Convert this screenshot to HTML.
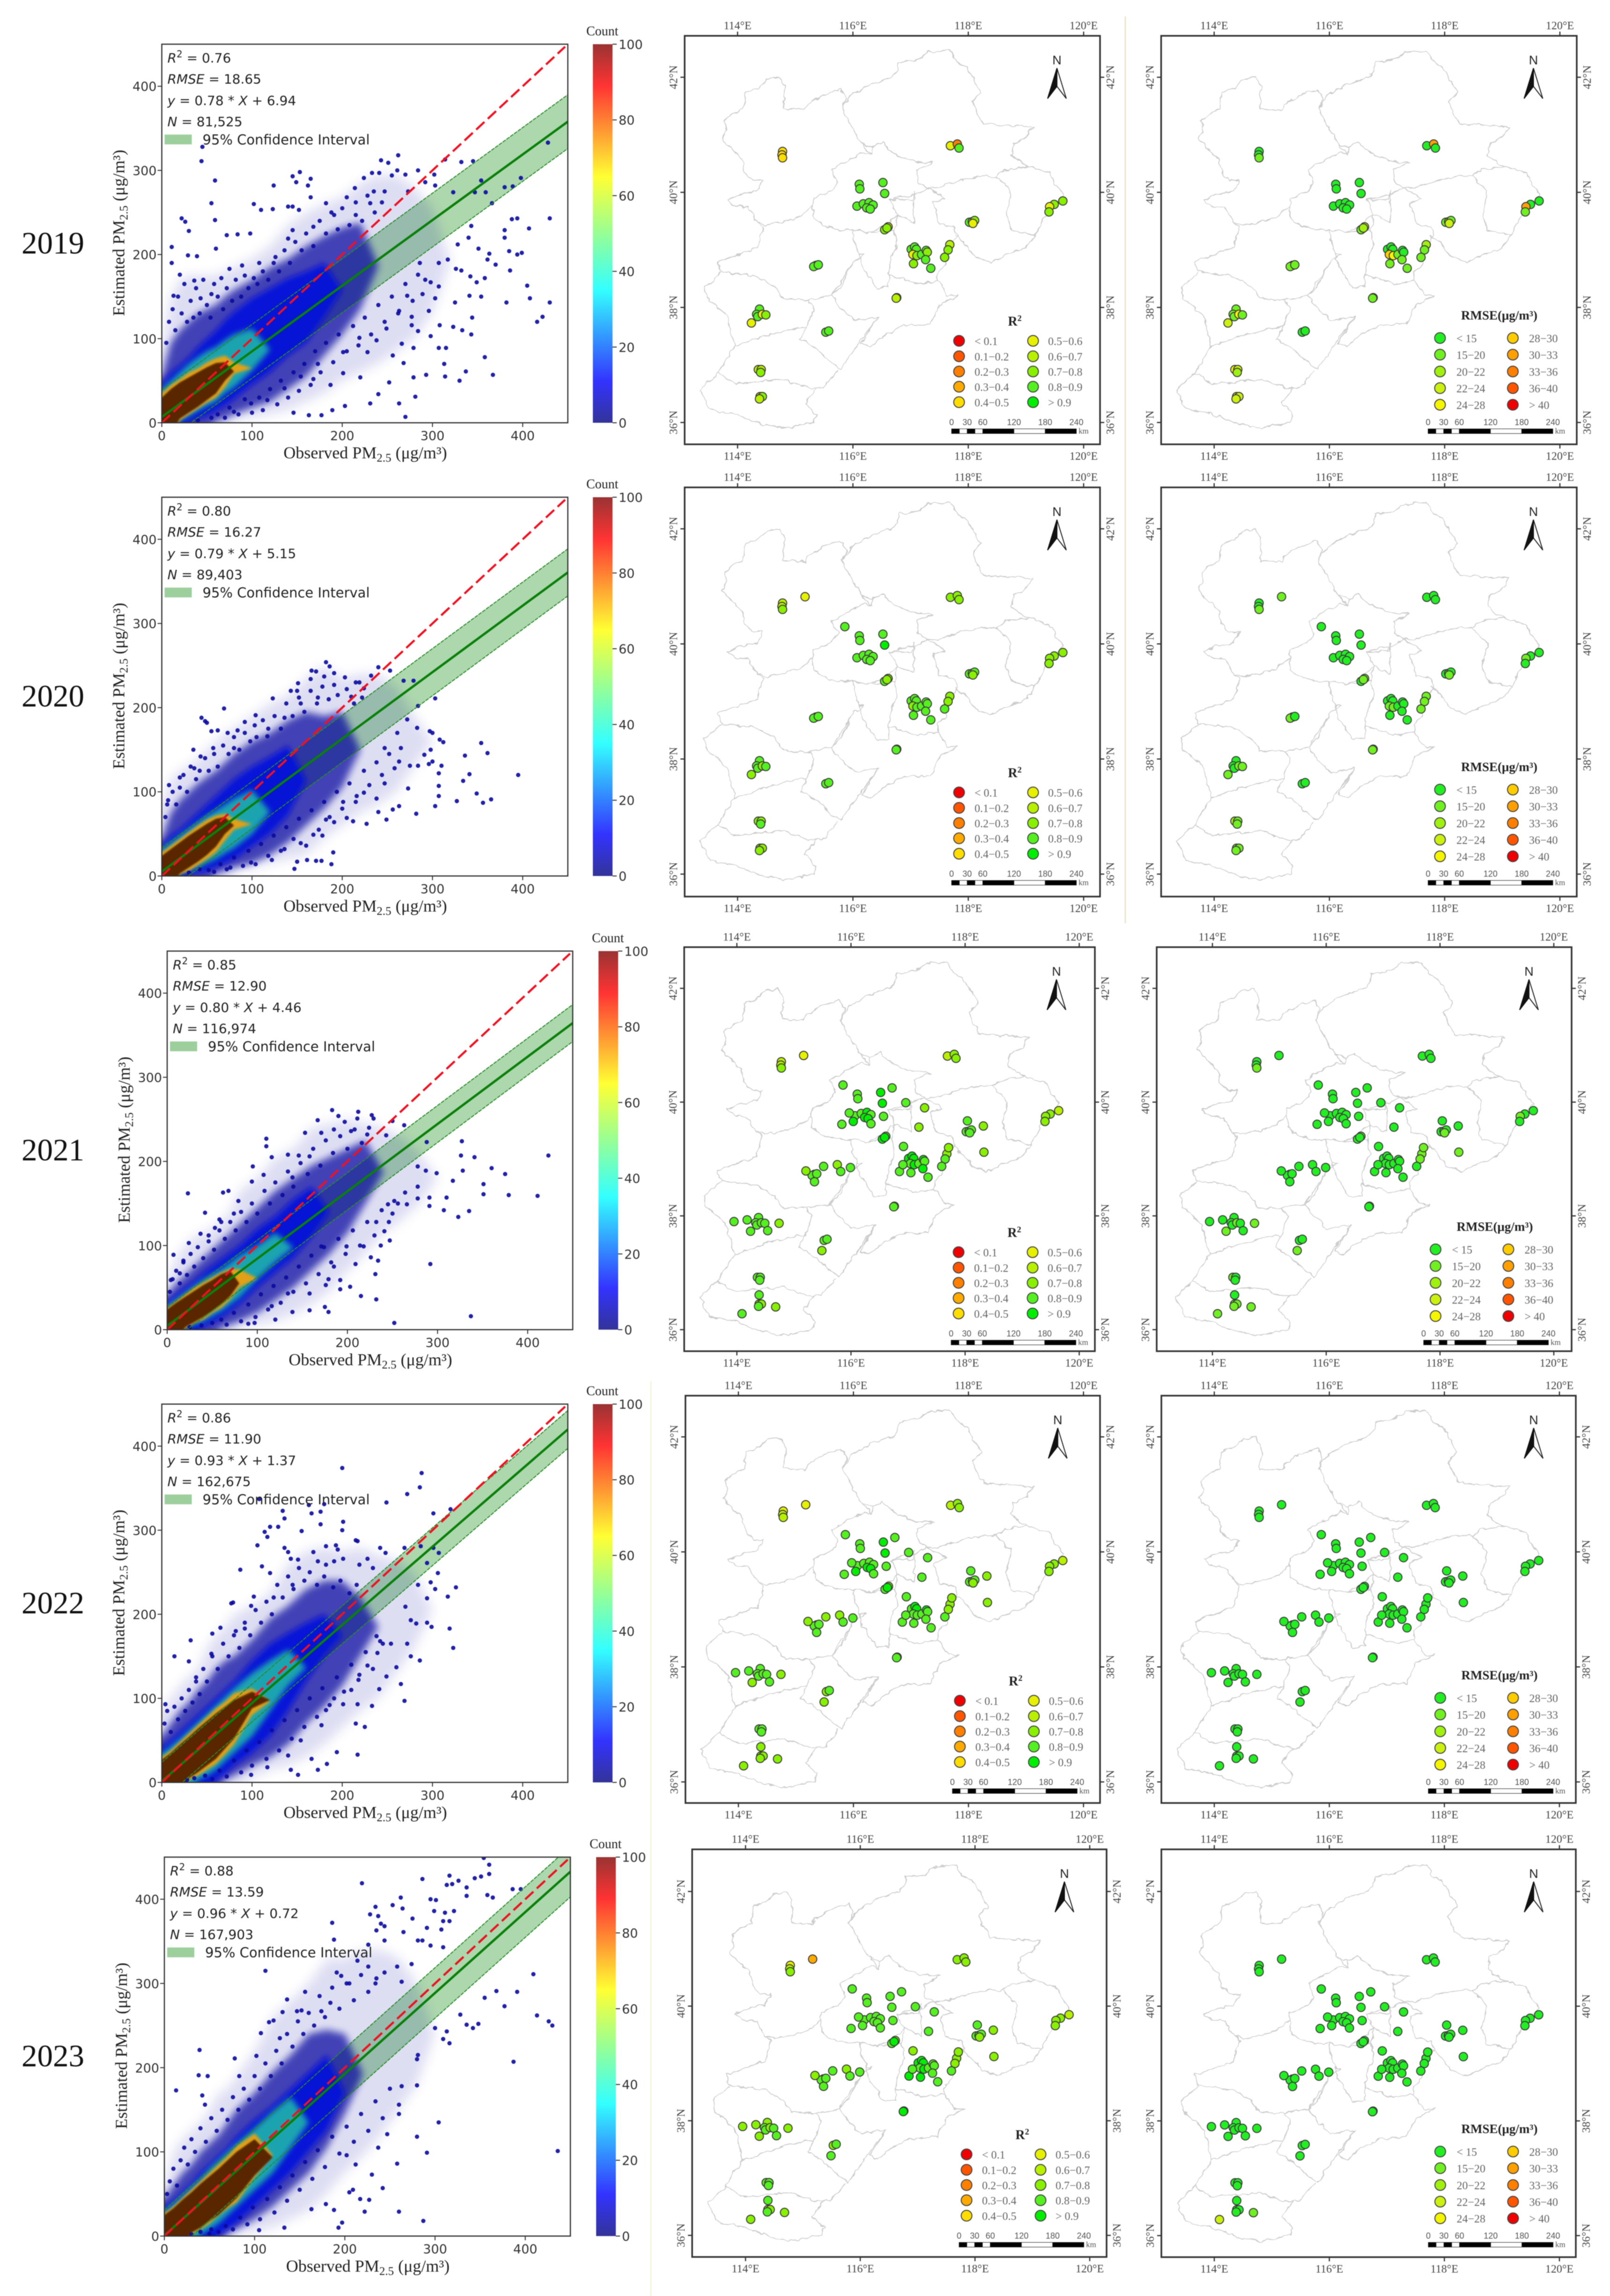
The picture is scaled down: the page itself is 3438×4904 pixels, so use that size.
<!DOCTYPE html>
<html lang="en">
<head>
<meta charset="utf-8">
<title>PM2.5 validation scatter plots and site maps, 2019-2023</title>
<style>
html,body{margin:0;padding:0;background:#fff;}
svg{display:block;filter:blur(0.8px);}
</style>
</head>
<body>
<svg id="figure" xmlns="http://www.w3.org/2000/svg" width="3438" height="4904" viewBox="0 0 3438 4904">
<defs id="defs">
<linearGradient id="jet" x1="0" y1="1" x2="0" y2="0">
<stop offset="0" stop-color="#000080"/>
<stop offset="0.11" stop-color="#0000ff"/>
<stop offset="0.35" stop-color="#00ffff"/>
<stop offset="0.5" stop-color="#7dff7a"/>
<stop offset="0.65" stop-color="#ffff00"/>
<stop offset="0.89" stop-color="#ff0000"/>
<stop offset="1" stop-color="#800000"/>
</linearGradient>
<filter id="blur1" x="-10%" y="-10%" width="120%" height="120%"><feGaussianBlur stdDeviation="1.6"/></filter>
<filter id="blur3" x="-10%" y="-10%" width="120%" height="120%"><feGaussianBlur stdDeviation="3"/></filter>
<filter id="blur4" x="-10%" y="-10%" width="120%" height="120%"><feGaussianBlur stdDeviation="6"/></filter>
<filter id="blur6" x="-10%" y="-10%" width="120%" height="120%"><feGaussianBlur stdDeviation="8"/></filter>
<filter id="blur9" x="-10%" y="-10%" width="120%" height="120%"><feGaussianBlur stdDeviation="12"/></filter>
<filter id="wiggle" x="-3%" y="-3%" width="106%" height="106%"><feTurbulence type="fractalNoise" baseFrequency="0.07" numOctaves="2" seed="4" result="n"/><feDisplacementMap in="SourceGraphic" in2="n" scale="11" xChannelSelector="R" yChannelSelector="G"/></filter>
</defs>
</svg>
<script>
/* ---------- scatter values ---------- */
const years = ['2019','2020','2021','2022','2023'];
const r2Labels = ['0.76','0.80','0.85','0.86','0.88'];
const rmseLabels = ['18.65','16.27','12.90','11.90','13.59'];
const nLabels = ['81,525','89,403','116,974','162,675','167,903'];
const fitSlopes = [0.78,0.79,0.80,0.93,0.96];
const fitIntercepts = [6.94,5.15,4.46,1.37,0.72];
const ciHalfWidths = [32,28,22,22.5,30];
const axisTicks = [0,100,200,300,400];
const colorbarTicks = [0,20,40,60,80,100];
const stationX = [0,10,20,30,40,50,60,70,80,100,120,140,160,180,200,220,240,260,280,300];

const hazeHi2019=[90,150,170,175,175,175,175,180,185,195,210,235,250,260,268,285,295,295,280,255];
const hazeLo2019=[0,0,0,0,0,0,0,0,3,6,10,15,25,35,50,60,70,85,100,130];
const speckHi2019=[55,95,110,120,130,135,140,150,158,170,185,195,210,222,232,238];
const speckLo2019=[0,0,0,0,0,0,2,5,10,18,25,40,55,80,105,135];
const solidHi2019=[45,60,68,78,90,100,110,122,132,148,160,172,180,190];
const solidLo2019=[0,0,0,2,5,8,14,20,28,45,60,80,95,125];
const cyanHi2019=[40,50,60,70,78,85,90,98,105,112];
const cyanLo2019=[0,0,2,8,14,20,25,35,42,62];
const orangeHi2019=[35,45,52,60,65,72,77,80,72];
const orangeLo2019=[0,0,3,10,17,24,30,42,58];
const brownHi2019=[30,40,48,54,60,66,71,72];
const brownLo2019=[0,0,5,12,19,27,35,50];

const hazeHi2020=[85,115,125,130,140,150,160,170,175,190,205,215,235,250,235,240,240,225,190];
const hazeLo2020=[0,0,0,0,0,0,0,0,5,10,15,20,25,45,60,75,85,100,130];
const speckHi2020=[45,75,90,100,110,118,125,135,145,160,170,185,195,190,195];
const speckLo2020=[0,0,0,0,0,0,3,6,10,15,25,40,60,80,105];
const solidHi2020=[35,48,55,65,75,85,95,105,115,130,142,155];
const solidLo2020=[0,0,0,2,4,6,10,15,20,35,50,72];
const cyanHi2020=[32,40,48,56,64,72,78,85,92,102];
const cyanLo2020=[0,0,3,6,10,15,20,27,33,50];
const orangeHi2020=[28,36,44,52,60,67,72,74,68];
const orangeLo2020=[0,0,2,6,13,20,28,42,55];
const brownHi2020=[24,32,40,48,55,62,68,70];
const brownLo2020=[0,0,3,10,17,25,35,50];

const hazeHi2021=[60,85,100,110,115,120,130,140,165,180,205,215,240,245,250,245,240,230,210];
const hazeLo2021=[0,0,0,0,0,0,0,0,3,6,10,18,30,45,70,90,115,130,150];
const speckHi2021=[42,55,65,75,85,95,105,115,125,145,165,180,195,205,215,225];
const speckLo2021=[0,0,0,0,0,0,2,6,10,20,35,50,70,90,115,150];
const solidHi2021=[32,42,50,58,68,76,84,92,100,120,135,155,170];
const solidLo2021=[0,0,0,0,4,8,14,22,30,50,68,85,110];
const cyanHi2021=[28,36,44,52,60,66,72,80,88,100,115];
const cyanLo2021=[0,0,2,6,10,16,22,30,38,60,80];
const orangeHi2021=[26,34,42,50,56,62,68,72,72];
const orangeLo2021=[0,0,2,8,12,20,26,36,50];
const brownHi2021=[24,32,39,46,53,59,66,70];
const brownLo2021=[0,0,3,9,15,22,30,40];

const hazeHi2022=[85,100,115,125,135,160,175,185,200,210,225,260,275,280,275,280,270,265,250];
const hazeLo2022=[0,0,0,0,0,0,0,0,0,5,15,20,30,45,65,85,100,130,160];
const speckHi2022=[55,70,85,95,110,120,135,145,150,170,195,210,230,240,240,220];
const speckLo2022=[0,0,0,0,0,0,0,3,8,20,30,45,70,90,115,150];
const solidHi2022=[42,50,60,70,80,90,100,110,120,145,165,178,190,200];
const solidLo2022=[0,0,0,0,0,0,3,10,20,35,55,85,120,150];
const cyanHi2022=[35,43,52,62,72,82,92,102,112,130,145,158];
const cyanLo2022=[0,0,0,0,3,8,15,25,35,55,85,115];
const orangeHi2022=[30,38,48,58,68,78,88,96,106,112];
const orangeLo2022=[0,0,0,3,8,15,22,33,45,80];
const brownHi2022=[27,35,45,54,64,73,82,90,98,108];
const brownLo2022=[0,0,0,5,12,20,28,40,52,88];

const hazeHi2023=[60,100,115,125,135,150,170,175,190,220,260,280,300,330,330,340,340,330,300];
const hazeLo2023=[0,0,0,0,0,0,0,0,2,5,10,20,30,50,75,95,120,150,180];
const speckHi2023=[45,60,75,85,100,110,120,135,150,170,195,215,240,245,240];
const speckLo2023=[0,0,0,0,0,0,0,3,8,20,35,55,75,105,145];
const solidHi2023=[35,42,52,62,75,85,95,105,118,138,155,175,195,215];
const solidLo2023=[0,0,0,0,0,0,2,8,15,35,55,75,100,125];
const cyanHi2023=[30,38,48,58,68,80,90,100,110,128,148,165];
const cyanLo2023=[0,0,0,0,2,8,15,25,35,55,75,105];
const orangeHi2023=[27,35,45,55,65,75,85,95,107,122];
const orangeLo2023=[0,0,0,2,8,15,25,33,40,70];
const brownHi2023=[25,33,43,52,62,71,80,90,100,115];
const brownLo2023=[0,0,0,4,10,18,25,35,45,72];

const points2019=[[45,328],[44,311],[59,288],[55,261],[59,241],[22,243],[26,239],[30,228],[11,209],[11,190],[102,260],[110,253],[123,254],[124,282],[145,293],[153,298],[149,286],[162,282],[165,290],[140,257],[145,257],[152,253],[165,268],[72,223],[84,224],[98,225],[60,207],[29,199],[39,198],[243,312],[251,309],[262,318],[261,300],[233,297],[241,297],[224,291],[255,294],[270,295],[284,300],[302,295],[292,286],[303,282],[273,275],[428,333],[332,310],[345,311],[314,313],[398,291],[354,288],[380,280],[389,281],[323,274],[347,274],[359,274],[366,261],[430,243],[394,243],[388,242],[380,229],[407,231],[343,234],[380,220],[340,220],[328,212],[351,207],[385,204],[399,202],[394,200],[363,201],[361,194],[370,188],[386,181],[307,190],[317,194],[326,183],[332,181],[342,174],[358,172],[349,167],[405,163],[408,148],[430,143],[382,143],[354,150],[341,151],[325,143],[303,148],[307,162],[298,167],[422,126],[416,120],[344,125],[343,105],[333,110],[323,114],[308,116],[298,103],[358,78],[367,57],[337,61],[330,50],[314,55],[313,70],[307,89],[315,89],[293,57],[279,54],[281,31],[270,7],[263,23],[231,23],[220,54],[240,34],[203,20],[189,15],[177,9],[163,9],[146,12],[256,80],[266,94],[277,116],[284,109],[252,48],[268,71],[279,89],[249,112],[238,98],[228,84],[284,176],[289,153],[272,151],[263,133],[277,126],[296,133],[13,151],[20,176],[36,169],[43,148],[55,153],[66,172],[75,183],[89,187],[108,190],[126,197],[140,219],[145,229],[168,233],[182,261],[191,247],[205,268],[214,279],[231,261],[235,275],[215,247],[247,275],[80,13],[99,23],[117,27],[136,41],[154,55],[168,52],[187,45],[201,59],[173,70],[201,84],[219,101],
[5,95],[8,120],[12,135],[15,110],[18,150],[22,130],[25,165],[28,120],[32,145],[35,125],[38,160],[42,130],[46,170],[50,140],[54,125],[58,165],[62,150],[68,135],[72,160],[78,145],[82,170],[88,150],[92,175],[96,160],[102,172],[106,165],[112,180],[118,170],[124,190],[130,180],[136,205],[142,190],[148,215],[155,205],[160,225],[168,210],[175,240],[182,225],[188,250],[195,230],[200,255],[208,235],[215,262],[222,240],[228,270],[236,250],[244,262],[40,3],[55,6],[62,10],[70,6],[75,18],[85,10],[92,28],[100,12],[108,30],[112,15],[120,40],[128,22],[132,50],[140,30],[146,60],[152,38],[158,70],[165,45],[170,85],[176,60],[182,95],[190,72],[196,105],[205,85],[212,115],[218,92],[225,125],[232,105],[240,140],[247,120],[255,150],[262,130],[270,165],[278,145],[286,190],[292,170]];
const points2020=[[182,254],[186,249],[166,244],[171,243],[165,234],[180,237],[191,241],[240,248],[253,244],[232,238],[215,230],[219,230],[203,236],[268,232],[279,232],[69,199],[44,188],[48,184],[50,182],[104,191],[123,211],[143,220],[150,220],[151,229],[92,183],[303,211],[284,202],[272,186],[283,176],[297,172],[300,170],[308,162],[312,159],[354,158],[361,146],[336,143],[341,121],[334,113],[395,120],[349,98],[365,91],[356,87],[327,89],[307,95],[307,107],[310,131],[307,122],[300,136],[296,133],[291,144],[298,150],[284,131],[275,131],[263,136],[273,104],[282,74],[303,83],[263,83],[256,79],[249,67],[227,62],[212,65],[205,69],[191,64],[178,48],[190,28],[188,14],[147,8.5],[150,17],[161,19],[171,18],[177,18],[240,76],[238,92],[247,110],[224,99],[265,152],[261,170],[247,152],[8,108],[6,85],[36,128],[35,150],[55,172],[62,173],[73,170],[84,173],[103,179],[117,166],[136,188],[154,205],[173,212],[191,227],[210,213],[224,223],[43,142],[20,117],[57,152],[80,152],[52,7],[76,10],[99,16],[122,19],[136,32],[154,39],[168,49],[182,67],[201,88],[215,88],
[4,70],[7,90],[12,100],[16,85],[20,105],[24,120],[28,100],[32,130],[38,115],[42,125],[48,140],[52,125],[58,145],[62,130],[68,155],[74,145],[80,165],[86,150],[92,170],[98,160],[105,165],[112,185],[118,175],[125,190],[132,175],[138,205],[145,190],[152,212],[158,195],[165,220],[172,205],[178,225],[185,210],[195,215],[205,222],[213,205],[222,212],[30,4],[42,8],[58,5],[65,14],[72,8],[80,22],[90,12],[96,30],[104,14],[110,38],[118,24],[124,48],[132,30],[138,58],[146,44],[152,68],[160,36],[166,78],[174,55],[180,88],[186,70],[194,100],[200,80],[208,110],[216,95],[224,125],[230,108],[238,135],[244,120],[252,145],[258,128]];
const points2021=[[183,261],[212,259],[227,255],[167,249],[190,254],[197,247],[211,251],[229,251],[250,248],[263,243],[110,227],[110,218],[153,234],[171,234],[185,238],[204,236],[222,232],[243,231],[95,194],[116,205],[134,208],[146,207],[158,206],[94,176],[23,162],[62,163],[68,165],[42,139],[7,89],[4,59],[37,114],[24,103],[60,128],[58,131],[327,224],[288,223],[326,207],[341,205],[423,207],[360,192],[375,185],[328,189],[299,186],[287,189],[278,194],[317,177],[351,173],[351,161],[379,160],[411,159],[310,157],[291,157],[278,156],[266,149],[291,147],[307,142],[335,141],[323,134],[292,78],[250,138],[247,106],[237,100],[226,86],[234,82],[231,66],[232,36],[215,40],[252,8],[337,16],[203,51],[192,59],[192,48],[179,60],[179,21],[175,27],[158,23],[139,21],[120,12],[97,8],[90,7],[209,78],[199,99],[218,99],[241,117],[232,128],[252,153],[264,163],[278,170],[245,149],[107,184],[139,181],[79,153],[74,138],[53,121],[46,112],[18,82],[14,67],[116,28],[134,43],[158,43],[176,53],[185,75],[171,99],
[3,45],[6,60],[10,70],[14,55],[18,80],[22,65],[26,90],[30,75],[34,98],[40,85],[46,105],[52,95],[58,118],[64,108],[70,128],[76,118],[82,140],[88,128],[94,150],[100,138],[108,165],[114,150],[120,175],[128,160],[134,188],[140,170],[148,198],[156,185],[162,215],[170,195],[176,225],[184,210],[192,230],[200,215],[208,238],[216,222],[224,240],[25,3],[38,5],[50,8],[60,12],[66,6],[74,20],[82,10],[90,30],[98,15],[104,42],[112,24],[118,52],[126,32],[132,62],[140,45],[146,75],[154,55],[160,88],[168,66],[174,98],[182,80],[190,108],[198,90],[206,118],[214,100],[222,128],[230,112],[238,142],[246,128],[256,150]];
const points2022=[[200,374],[288,368],[286,351],[272,343],[249,333],[301,320],[320,325],[163,330],[180,331],[108,337],[134,323],[136,314],[166,320],[176,322],[176,307],[201,310],[200,300],[155,299],[114,298],[120,304],[129,304],[117,292],[106,282],[136,279],[140,274],[143,266],[151,265],[168,274],[182,281],[193,282],[195,277],[215,288],[217,287],[242,279],[248,273],[269,279],[287,281],[301,279],[307,273],[306,249],[294,261],[284,235],[303,230],[326,232],[317,221],[298,238],[294,219],[319,183],[323,160],[299,185],[294,190],[282,189],[276,193],[270,209],[272,165],[276,150],[286,145],[254,165],[245,165],[239,154],[260,137],[249,126],[265,117],[269,97],[241,111],[233,91],[225,66],[215,70],[217,33],[194,36],[183,22],[173,15],[151,9],[143,15],[166,28],[87,253],[111,257],[120,249],[77,213],[79,214],[102,221],[32,169],[14,150],[30,144],[4,93],[56,177],[65,184],[82,180],[38,125],[55,153],[92,183],[99,210],[124,220],[145,235],[173,263],[182,259],[191,263],[201,266],[219,259],[228,266],[234,255],[201,93],[217,93],[191,100],[182,86],[177,68],[154,50],[140,32],[117,18],[99,9],[210,110],[219,128],[228,139],[238,174],
[3,70],[6,85],[10,60],[14,90],[18,75],[22,100],[26,85],[30,110],[34,95],[38,120],[42,105],[46,135],[50,120],[56,150],[62,135],[68,165],[74,150],[80,175],[86,160],[92,190],[98,175],[104,205],[110,190],[116,215],[122,200],[128,235],[134,220],[140,245],[146,230],[152,255],[158,240],[164,250],[172,235],[180,245],[190,232],[198,240],[208,225],[216,235],[28,3],[36,5],[48,8],[56,4],[64,14],[72,7],[80,26],[88,12],[94,38],[100,20],[108,48],[116,28],[122,62],[130,38],[136,74],[144,52],[150,86],[158,66],[164,100],[172,78],[178,112],[186,92],[194,125],[202,108],[210,140],[218,122],[226,155],[234,135],[242,168]];
const points2023=[[354,449],[360,441],[360,430],[316,428],[286,424],[219,419],[351,427],[344,425],[326,422],[319,418],[313,417],[335,414],[386,412],[395,412],[335,404],[262,402],[295,400],[301,399],[364,402],[358,405],[253,393],[234,391],[264,389],[299,386],[311,384],[321,386],[228,382],[237,380],[275,377],[316,374],[309,374],[186,372],[240,371],[244,368],[291,366],[307,364],[265,361],[235,363],[188,352],[244,351],[281,351],[286,351],[226,346],[295,345],[309,343],[112,315],[409,311],[391,290],[377,273],[368,291],[355,283],[413,262],[426,255],[430,250],[348,252],[342,247],[335,251],[328,263],[316,229],[309,234],[313,243],[300,247],[387,207],[281,215],[280,210],[436,101],[304,135],[291,99],[280,118],[280,179],[260,156],[260,145],[258,86],[260,29],[287,18],[242,57],[227,43],[217,44],[222,29],[209,55],[205,52],[197,16],[193,10],[188,31],[179,38],[163,32],[39,221],[78,211],[38,191],[48,190],[13,173],[42,167],[45,156],[156,290],[136,281],[131,266],[121,256],[116,254],[107,241],[147,267],[152,268],[128,235],[102,214],[83,190],[133,10],[105,7],[50,3],[230,73],[237,105],[247,121],[263,178],[212,85],[202,96],[174,267],[184,277],[191,313],[196,309],[205,300],[214,327],[226,320],[235,306],[244,313],[258,320],[263,302],[274,323],
[3,50],[6,65],[10,80],[14,60],[18,90],[22,105],[26,85],[30,115],[34,100],[40,128],[46,112],[52,140],[58,125],[64,150],[70,138],[76,165],[82,150],[88,175],[94,162],[100,190],[106,175],[112,205],[118,190],[124,220],[130,205],[136,240],[142,225],[148,255],[154,240],[160,265],[166,250],[172,285],[178,260],[186,295],[194,270],[202,300],[210,280],[218,310],[226,290],[234,300],[30,2],[40,5],[52,8],[60,5],[68,12],[76,8],[84,22],[92,14],[98,34],[106,20],[114,44],[122,28],[128,58],[136,42],[142,72],[150,55],[156,88],[164,68],[170,102],[178,82],[186,118],[194,98],[202,130],[210,112],[218,145],[226,125],[234,160],[242,140],[250,175]];

/* ---------- map values ---------- */
const siteLon=[114.78,114.77,114.78,117.69,117.81,117.84,116.11,116.12,116.52,116.55,116.07,116.18,116.28,116.35,116.24,116.30,116.61,116.55,116.59,118.02,118.07,118.11,118.08,119.64,119.49,119.41,119.40,117.01,117.07,117.10,117.04,117.11,117.19,117.27,117.29,117.26,117.05,117.35,117.68,117.65,117.59,115.36,115.32,115.40,116.76,116.75,114.38,114.33,114.35,114.43,114.49,114.24,115.53,115.58,114.36,114.41,114.40,114.39,114.43,114.38,115.17,115.86,116.72,116.96,117.29,117.19,118.04,118.32,118.33,116.92,116.85,116.91,115.97,116.04,115.84,116.35,116.57,115.21,115.36,115.52,115.76,115.82,115.99,113.95,114.18,114.54,114.74,115.49,114.39,114.68,114.09,117.71];
const siteLat=[40.71,40.65,40.60,40.81,40.84,40.77,40.14,40.06,40.17,39.98,39.76,39.80,39.82,39.78,39.73,39.71,39.40,39.35,39.38,39.48,39.49,39.51,39.46,39.85,39.79,39.75,39.66,39.01,39.05,39.01,38.92,38.90,38.92,38.99,38.96,38.83,38.76,38.68,39.09,39.00,38.87,38.73,38.71,38.74,38.17,38.16,37.97,37.88,37.84,37.88,37.87,37.73,37.57,37.59,36.92,36.92,36.87,36.45,36.45,36.41,40.82,40.30,40.25,39.99,39.90,39.56,39.67,39.58,39.12,39.22,38.78,38.90,39.81,39.66,39.61,39.62,39.75,38.79,38.60,38.87,38.90,38.78,38.85,37.90,37.93,37.74,37.87,37.39,36.61,36.40,36.28,39.20];
const r2Sites2019=[.42,.45,.48,.55,.25,.8,.83,.85,.8,.85,.8,.82,.85,.82,.85,.85,.55,.78,.7,.8,.8,.78,.55,.7,.78,.55,.75,.8,.8,.85,.55,.75,.8,.8,.7,.8,.75,.8,.65,.75,.78,.82,.8,.8,.7,.65,.8,.8,.8,.55,.78,.55,.8,.85,.6,.65,.7,.6,.7,.65];
const rmseSites2019=[13,13,17,14,31,13,12,12,12,12,12,12,12,12,12,12,23,16,20,15,15,15,22,13,13,31,15,14,13,14,29,24,15,14,14,16,16,16,21,18,16,16,16,15,16,18,15,16,15,25,18,23,14,13,25,22,21,23,22,22];
const r2Sites2020=[.65,.6,.7,.75,.72,.75,.85,.85,.85,.9,.85,.85,.85,.85,.85,.85,.7,.85,.75,.8,.8,.8,.7,.72,.75,.7,.75,.85,.85,.88,.72,.8,.85,.85,.8,.85,.85,.85,.72,.75,.8,.82,.85,.85,.8,.8,.85,.85,.85,.7,.85,.7,.82,.85,.7,.75,.8,.7,.75,.75,.55,.85];
const rmseSites2020=[14,14,16,14,14,13,12,12,12,12,12,12,12,12,12,12,17,14,15,14,14,14,18,13,13,16,14,13,13,13,17,15,13,13,14,14,14,14,17,16,15,14,15,14,15,15,14,14,14,19,15,19,14,13,20,17,16,18,17,18,18,13];
const r2Sites2021=[.6,.6,.7,.68,.7,.75,.85,.88,.92,.93,.88,.88,.9,.88,.9,.9,.8,.92,.93,.82,.82,.8,.85,.65,.7,.72,.72,.9,.92,.93,.88,.9,.88,.93,.85,.9,.88,.85,.78,.8,.82,.8,.85,.82,.85,.82,.82,.85,.85,.88,.85,.8,.82,.85,.85,.8,.85,.72,.7,.8,.55,.88,.88,.8,.75,.78,.85,.78,.75,.8,.8,.8,.82,.93,.85,.82,.88,.75,.85,.8,.72,.85,.82,.82,.82,.85,.78,.75,.82,.75,.8,.78];
const rmseSites2021=[14,14,15,14,14,13,12,12,12,12,12,12,12,12,12,12,15,12,13,14,14,14,16,14,14,16,14,12,12,12,14,13,12,12,13,13,13,13,16,15,14,14,14,14,13,14,13,13,13,16,14,17,13,13,16,14,14,16,16,16,13,12,12,13,13,14,12,14,15,13,13,13,12,12,12,12,12,14,14,14,13,13,14,14,14,14,15,16,14,16,17,16];
const r2Sites2022=[.55,.6,.65,.65,.7,.75,.85,.85,.9,.93,.85,.82,.85,.85,.9,.9,.75,.85,.9,.8,.8,.8,.75,.68,.72,.7,.72,.88,.9,.92,.8,.85,.85,.93,.82,.88,.85,.85,.75,.75,.8,.8,.82,.8,.85,.82,.85,.85,.85,.8,.85,.75,.78,.8,.85,.88,.85,.72,.72,.75,.52,.85,.88,.85,.8,.82,.8,.75,.72,.8,.85,.85,.82,.9,.8,.85,.88,.75,.82,.78,.72,.85,.8,.8,.8,.85,.75,.72,.78,.72,.75,.75];
const rmseSites2022=[13,13,13,12,12,12,11,11,11,11,11,11,11,11,11,11,13,11,12,12,12,12,13,12,12,13,12,11,11,11,12,11,11,11,11,12,12,12,13,13,12,12,12,12,12,12,11,11,11,13,12,14,12,12,13,12,12,14,13,14,11,11,11,11,12,12,11,12,12,12,12,12,11,11,11,11,11,12,12,12,12,12,12,13,13,12,13,13,13,14,14,13];
const r2Sites2023=[.55,.6,.7,.72,.72,.75,.82,.82,.88,.85,.85,.82,.85,.85,.88,.88,.78,.85,.9,.8,.8,.8,.78,.68,.72,.72,.72,.93,.93,.95,.85,.9,.88,.85,.82,.88,.92,.85,.78,.78,.8,.8,.82,.8,.85,.95,.78,.82,.82,.75,.85,.7,.78,.8,.88,.85,.88,.75,.75,.82,.35,.85,.85,.82,.8,.8,.82,.78,.75,.78,.92,.88,.82,.85,.82,.88,.85,.78,.82,.82,.75,.85,.8,.75,.75,.82,.78,.8,.82,.72,.78,.72];
const rmseSites2023=[14,14,13,12,12,12,11,11,11,11,11,11,11,11,11,11,14,12,12,13,13,13,14,13,13,13,13,11,11,11,13,12,12,11,12,12,12,12,14,14,13,13,13,13,12,12,12,12,12,14,13,13,13,13,14,13,12,14,13,14,12,11,11,12,13,13,12,13,14,12,12,12,11,12,12,11,12,13,13,13,13,13,13,13,13,12,14,14,14,15,23,14];

const r2Classes=[0.1,0.2,0.3,0.4,0.5,0.6,0.7,0.8,0.9];
const r2Colors=['#f00000','#ff5500','#ff7f00','#ffaa00','#ffdd00','#e6f000','#b8f000','#88f000','#55f020','#00ee00'];
const r2LegendLabels=['< 0.1','0.1−0.2','0.2−0.3','0.3−0.4','0.4−0.5','0.5−0.6','0.6−0.7','0.7−0.8','0.8−0.9','> 0.9'];
const rmseClasses=[15,20,22,24,28,30,33,36,40];
const rmseColors=['#22ee22','#70f020','#a0f010','#ccf010','#f5f500','#ffcc00','#ffa000','#ff7f00','#ff5500','#f00000'];
const rmseLegendLabels=['< 15','15−20','20−22','22−24','24−28','28−30','30−33','33−36','36−40','> 40'];
const scaleBreaks=[0,15,30,45,60,120,180,240];
const scaleLabels=[0,30,60,120,180,240];
const lonTicks=[114,116,118,120];
const latTicks=[42,40,38,36];

/* ---------- province / city boundaries (lon, lat) ---------- */
const boundaryZhangjiakou=[116.33,40.65,116.20,40.70,115.89,40.54,115.63,40.39,115.74,40.18,115.63,40.02,115.32,39.89,115.31,39.76,115.06,39.56,114.75,39.48,114.49,39.43,114.34,39.48,114.18,39.74,113.95,39.76,113.82,39.87,114.08,39.97,114.34,40.02,114.44,40.21,114.26,40.21,114.13,40.34,114.08,40.57,113.90,40.75,113.73,40.93,113.81,41.06,113.77,41.24,113.91,41.35,114.10,41.45,114.13,41.74,114.36,41.82,114.52,41.97,114.73,41.99,114.82,41.84,114.79,41.45,115.17,41.43,115.22,41.53,115.48,41.69,115.79,41.79,115.89,41.63,115.81,41.45,116.02,41.06,116.15,40.85,116.33,40.65];
const boundaryChengde=[115.81,41.45,115.97,41.69,116.28,41.87,116.67,42.00,116.77,42.10,116.80,42.26,117.13,42.31,117.32,42.44,117.68,42.46,117.81,42.26,117.96,42.18,118.07,42.00,118.22,41.74,118.07,41.58,118.15,41.37,118.27,41.19,118.64,41.17,119.13,41.14,119.00,40.96,118.79,40.85,118.74,40.65,118.95,40.49,119.05,40.45,118.64,40.39,118.48,40.28,118.22,40.28,117.96,40.23,117.47,40.08,117.29,40.08,117.13,40.18,117.11,40.39,117.39,40.52,117.08,40.54,116.77,40.65,116.56,40.80,116.51,40.88,116.33,40.78,116.15,40.85];
const boundaryBeijingNorth=[116.33,40.65,116.33,40.78];
const boundaryBeijingSouth=[115.31,39.76,115.32,39.56,115.48,39.43,115.74,39.35,116.00,39.35,116.31,39.30,116.56,39.43,116.77,39.61,116.64,39.87,117.08,39.97,117.29,40.08];
const boundaryTianjin=[117.29,40.08,117.47,39.97,117.60,39.89,117.39,39.82,117.50,39.45,117.76,39.40,117.81,39.25,117.68,39.04,117.60,38.73,117.47,38.62,117.47,38.47,117.13,38.41,116.62,38.57,116.67,38.88,116.77,39.09,116.72,39.35,116.77,39.61];
const boundaryLangfang=[116.64,39.87,117.03,39.87,117.06,40.02,117.06,39.48,116.77,39.61];
const boundaryLangfangSouth=[116.00,39.35,116.02,39.19,116.10,38.93,116.15,38.73,116.28,38.52,116.41,38.34,116.62,38.36,116.62,38.57];
const boundaryLangfangEast=[116.31,39.30,116.72,39.35];
const boundaryTangshan=[118.48,40.28,118.74,40.02,118.66,39.61,118.74,39.35,119.16,39.25,119.00,39.04,118.69,38.93,118.38,38.78,118.12,38.88,117.91,39.14,117.76,39.25];
const boundaryQinhuangdao=[119.05,40.45,119.41,40.34,119.52,40.13,119.65,39.97,119.31,39.56,119.16,39.25];
const boundaryBaoding=[114.34,39.48,114.44,39.40,114.34,39.04,114.03,38.93,113.66,38.80,113.72,38.62,114.34,38.54,114.65,38.36,114.80,38.15,115.22,38.13,115.63,38.21,115.84,38.52,116.00,38.78,116.20,38.93,116.10,38.93];
const boundaryCangzhou=[117.47,38.47,117.65,38.21,117.83,38.21,117.50,38.05,117.34,37.71,116.88,37.69,116.56,37.53,116.31,37.32,116.15,37.38,116.44,37.84,116.02,37.77,115.89,37.90,115.74,38.05,115.63,38.21,115.79,38.36,116.00,38.78];
const boundaryShijiazhuang=[113.72,38.60,113.43,38.36,113.46,38.15,113.61,38.05,113.82,37.84,113.95,37.32,114.49,37.51,115.01,37.64,115.20,37.66];
const boundaryHengshui=[115.22,38.13,115.32,38.00,115.20,37.66,115.09,37.45,115.32,37.32,115.63,37.04,115.79,36.93,116.20,37.51,116.44,37.84];
const boundaryXingtai=[113.95,37.32,113.66,36.86,113.97,36.67,114.80,36.75,115.22,36.60,115.48,36.60,115.74,36.91];
const boundaryHandan=[113.66,36.86,113.35,36.57,113.51,36.23,113.92,36.16,114.44,35.97,114.80,35.90,115.32,36.00,115.37,36.13,115.17,36.34,115.37,36.60];
const boundaryList=[boundaryZhangjiakou,boundaryChengde,boundaryBeijingNorth,boundaryBeijingSouth,boundaryTianjin,boundaryLangfang,boundaryLangfangSouth,boundaryLangfangEast,boundaryTangshan,boundaryQinhuangdao,boundaryBaoding,boundaryCangzhou,boundaryShijiazhuang,boundaryHengshui,boundaryXingtai,boundaryHandan];

/* ---------- helpers ---------- */
const NS='http://www.w3.org/2000/svg';
const root=document.getElementById('figure');
const SANS='"DejaVu Sans","Liberation Sans",sans-serif';
const SERIF='"Liberation Serif",serif';
const ARIAL='"Liberation Sans",sans-serif';
function mk(tag,attrs,parent){
  const e=document.createElementNS(NS,tag);
  for(const k in attrs){e.setAttribute(k,attrs[k]);}
  parent.appendChild(e);
  return e;
}
function txt(str,attrs,parent){
  const e=mk('text',attrs,parent);
  if(str!==null){e.appendChild(document.createTextNode(str));}
  return e;
}
function span(parent,str,attrs){
  const t=document.createElementNS(NS,'tspan');
  for(const k in (attrs||{})){t.setAttribute(k,attrs[k]);}
  t.appendChild(document.createTextNode(str));
  parent.appendChild(t);
  return t;
}

/* ---------- scatter panels ---------- */
const scatterFrames=[
 {L:345.5,R:1212.5,T:94.4,B:903,cbL:1266,cbR:1308},
 {L:345.5,R:1212.5,T:1062,B:1871,cbL:1266,cbR:1308},
 {L:357,R:1223,T:2031.4,B:2840,cbL:1278,cbR:1320},
 {L:345.5,R:1212.5,T:2999,B:3807,cbL:1266,cbR:1308},
 {L:351,R:1218,T:3966.6,B:4776,cbL:1273,cbR:1315}
];
const bandStyles=[
 {name:'sparse-haze',color:'#0a0aa0',opacity:0.13,filter:'blur9'},
 {name:'speckle-zone',color:'#06069c',opacity:0.7,filter:'blur6'},
 {name:'dense-blue',color:'#0410dc',opacity:0.88,filter:'blur4'},
 {name:'cyan-green',color:'#22c8a8',opacity:0.8,filter:'blur4'},
 {name:'orange-ring',color:'#e2a012',opacity:1,filter:'blur3'},
 {name:'brown-core',color:'#5a2600',opacity:1,filter:'blur1'}
];
const yearBands=[
 [[hazeLo2019,hazeHi2019],[speckLo2019,speckHi2019],[solidLo2019,solidHi2019],[cyanLo2019,cyanHi2019],[orangeLo2019,orangeHi2019],[brownLo2019,brownHi2019]],
 [[hazeLo2020,hazeHi2020],[speckLo2020,speckHi2020],[solidLo2020,solidHi2020],[cyanLo2020,cyanHi2020],[orangeLo2020,orangeHi2020],[brownLo2020,brownHi2020]],
 [[hazeLo2021,hazeHi2021],[speckLo2021,speckHi2021],[solidLo2021,solidHi2021],[cyanLo2021,cyanHi2021],[orangeLo2021,orangeHi2021],[brownLo2021,brownHi2021]],
 [[hazeLo2022,hazeHi2022],[speckLo2022,speckHi2022],[solidLo2022,solidHi2022],[cyanLo2022,cyanHi2022],[orangeLo2022,orangeHi2022],[brownLo2022,brownHi2022]],
 [[hazeLo2023,hazeHi2023],[speckLo2023,speckHi2023],[solidLo2023,solidHi2023],[cyanLo2023,cyanHi2023],[orangeLo2023,orangeHi2023],[brownLo2023,brownHi2023]]
];
const yearPoints=[points2019,points2020,points2021,points2022,points2023];

function drawScatter(i){
  const f=scatterFrames[i];
  const xS=v=>f.L+v/450*(f.R-f.L);
  const yS=v=>f.B-v/450*(f.B-f.T);
  const g=mk('g',{},root);
  
  

  const yl=txt(years[i],{x:46,y:f.T+447,'font-family':SERIF,'font-size':67,fill:'#111'},g);
  
  

  const clip=mk('clipPath',{id:'axclip'+i},document.getElementById('defs'));
  mk('rect',{x:f.L,y:f.T,width:f.R-f.L,height:f.B-f.T},clip);
  const plot=mk('g',{'clip-path':'url(#axclip'+i+')'},g);
  
  

  const fit=x=>fitSlopes[i]*x+fitIntercepts[i];
  const hw=ciHalfWidths[i];
  const ci=mk('polygon',{points:[xS(0)+','+yS(fit(0)+hw),xS(450)+','+yS(fit(450)+hw),xS(450)+','+yS(fit(450)-hw),xS(0)+','+yS(fit(0)-hw)].join(' '),fill:'#3c9f3c','fill-opacity':0.42},plot);
  
  

  yearBands[i].forEach((band,b)=>{
    const lo=band[0],hi=band[1];
    const n=Math.min(lo.length,hi.length);
    const pts=[];
    pts.push((xS(0)-24)+','+(f.B+24));
    pts.push((xS(0)-24)+','+yS(hi[0]));
    for(let k=0;k<n;k++){pts.push(xS(stationX[k])+','+yS(hi[k]));}
    const tipAt=n<stationX.length?stationX[n]:stationX[n-1]+20;
    pts.push(xS(tipAt)+','+yS((hi[n-1]+lo[n-1])/2));
    for(let k=n-1;k>=0;k--){pts.push(xS(stationX[k])+','+(lo[k]===0?f.B+24:yS(lo[k])));}
    const st=bandStyles[b];
    const poly=mk('polygon',{points:pts.join(' '),fill:st.color,'fill-opacity':st.opacity,filter:'url(#'+st.filter+')'},plot);
    
    
  });

  yearPoints[i].forEach(p=>{
    const c=mk('circle',{cx:xS(p[0]),cy:yS(p[1]),r:4.6,fill:'#0a0aa0','fill-opacity':0.9},plot);
    
    
  });

  [hw,-hw].forEach(d=>{
    const e=mk('line',{x1:xS(0),y1:yS(fit(0)+d),x2:xS(450),y2:yS(fit(450)+d),stroke:'#2a8a2a','stroke-width':2,'stroke-dasharray':'8 2'},plot);
    
    
  });
  const fl=mk('line',{x1:xS(0),y1:yS(fit(0)),x2:xS(450),y2:yS(fit(450)),stroke:'#0a7f0a','stroke-width':5},plot);
  
  
  const one=mk('line',{x1:xS(0),y1:yS(0),x2:xS(447),y2:yS(447),stroke:'#f01020','stroke-width':4.5,'stroke-dasharray':'24 10'},plot);
  
  

  const frame=mk('rect',{x:f.L,y:f.T,width:f.R-f.L,height:f.B-f.T,fill:'none',stroke:'#333','stroke-width':2.5},g);
  
  

  axisTicks.forEach(t=>{
    const a=mk('line',{x1:xS(t),y1:f.B,x2:xS(t),y2:f.B+9,stroke:'#333','stroke-width':2},g);
    
    
    const b=txt(String(t),{x:xS(t),y:f.B+37,'text-anchor':'middle','font-family':SANS,'font-size':27,fill:'#333'},g);
    
    
    const c=mk('line',{x1:f.L-9,y1:yS(t),x2:f.L,y2:yS(t),stroke:'#333','stroke-width':2},g);
    
    
    const d=txt(String(t),{x:f.L-11,y:yS(t)+10,'text-anchor':'end','font-family':SANS,'font-size':27,fill:'#333'},g);
    
    
  });

  const xt=txt(null,{x:(f.L+f.R)/2+1,y:f.B+76,'text-anchor':'middle','font-family':SERIF,'font-size':36,fill:'#222'},g);
  
  
  span(xt,'Observed PM');
  span(xt,'2.5',{dy:7,'font-size':25});
  span(xt,' (μg/m³)',{dy:-7});

  const yt=txt(null,{transform:'translate('+(f.L-80)+','+(f.T+403)+') rotate(-90)','text-anchor':'middle','font-family':SERIF,'font-size':36,fill:'#222'},g);
  
  
  span(yt,'Estimated PM');
  span(yt,'2.5',{dy:7,'font-size':25});
  span(yt,' (μg/m³)',{dy:-7});

  const ax=f.L+12;
  const s1=txt(null,{x:ax,y:f.T+39,'font-family':SANS,'font-size':28,fill:'#222'},g);
  
  
  span(s1,'R',{'font-style':'italic'});
  span(s1,'2',{dy:-11,'font-size':20});
  span(s1,' = '+r2Labels[i],{dy:11});

  const s2=txt(null,{x:ax,y:f.T+84,'font-family':SANS,'font-size':28,fill:'#222'},g);
  
  
  span(s2,'RMSE',{'font-style':'italic'});
  span(s2,' = '+rmseLabels[i]);

  const s3=txt(null,{x:ax,y:f.T+130,'font-family':SANS,'font-size':28,fill:'#222'},g);
  
  
  span(s3,'y',{'font-style':'italic'});
  span(s3,' = '+fitSlopes[i].toFixed(2)+' * ');
  span(s3,'X',{'font-style':'italic'});
  span(s3,' + '+fitIntercepts[i].toFixed(2));

  const s4=txt(null,{x:ax,y:f.T+175,'font-family':SANS,'font-size':28,fill:'#222'},g);
  
  
  span(s4,'N',{'font-style':'italic'});
  span(s4,' = '+nLabels[i]);

  const lp=mk('rect',{x:f.L+6,y:f.T+193,width:58,height:21,fill:'#3c9f3c','fill-opacity':0.5},g);
  
  
  const lt=txt('95% Confidence Interval',{x:f.L+87,y:f.T+214,'font-family':SANS,'font-size':29,fill:'#222'},g);
  
  

  const cb=mk('rect',{x:f.cbL,y:f.T,width:f.cbR-f.cbL,height:f.B-f.T,fill:'url(#jet)','fill-opacity':0.8},g);
  
  
  const cyS=v=>f.B-v/100*(f.B-f.T);
  colorbarTicks.forEach(t=>{
    const a=mk('line',{x1:f.cbR,y1:cyS(t),x2:f.cbR+9,y2:cyS(t),stroke:'#333','stroke-width':2},g);
    
    
    const b=txt(String(t),{x:f.cbR+13,y:cyS(t)+10,'font-family':SANS,'font-size':27,fill:'#333'},g);
    
    
  });
  const ct=txt('Count',{x:f.cbL-14,y:f.T-19,'font-family':SERIF,'font-size':28,fill:'#222'},g);
  
  
}

/* ---------- map panels ---------- */
const mapFrames=[
 {L:1462,R:2349,T:76.5,B:949,x114:1575,x120:2314,y42:165,y36:902.4},
 {L:2479.5,R:3367,T:76.5,B:949,x114:2592.7,x120:3331,y42:165,y36:902.4},
 {L:1462,R:2349,T:1041,B:1915,x114:1575,x120:2314,y42:1129.5,y36:1867},
 {L:2479.5,R:3367,T:1041,B:1915,x114:2592.7,x120:3331,y42:1129.5,y36:1867},
 {L:1461,R:2338,T:2023,B:2886,x114:1573.5,x120:2304.6,y42:2111,y36:2840},
 {L:2470,R:3356,T:2023,B:2886,x114:2589,x120:3318,y42:2111,y36:2840},
 {L:1463.7,R:2349,T:2981,B:3851,x114:1576.8,x120:2313.7,y42:3069,y36:3806},
 {L:2480,R:3365,T:2981,B:3851,x114:2593,x120:3330,y42:3069,y36:3806},
 {L:1478,R:2363,T:3950,B:4820.6,x114:1592,x120:2327,y42:4040,y36:4774.5},
 {L:2480,R:3365,T:3950,B:4821,x114:2593,x120:3330,y42:4040,y36:4775}
];
const mapValues=[r2Sites2019,rmseSites2019,r2Sites2020,rmseSites2020,r2Sites2021,rmseSites2021,r2Sites2022,rmseSites2022,r2Sites2023,rmseSites2023];
const mapKinds=['r2','rmse','r2','rmse','r2','rmse','r2','rmse','r2','rmse'];
function classIndex(v,classes){
  for(let c=0;c<classes.length;c++){ if(v<classes[c]) return c; }
  return classes.length;
}
function drawMap(i){
  const f=mapFrames[i];
  const isR2=mapKinds[i]==='r2';
  const lonX=v=>f.x114+(v-114)/6*(f.x120-f.x114);
  const latY=v=>f.y36-(v-36)/6*(f.y36-f.y42);
  const g=mk('g',{},root);
  
  

  const bg=mk('g',{filter:'url(#wiggle)'},g);
  
  
  boundaryList.forEach(line=>{
    const pts=[];
    for(let k=0;k<line.length;k+=2){pts.push(lonX(line[k])+','+latY(line[k+1]));}
    const b=mk('polyline',{points:pts.join(' '),fill:'none',stroke:'#cdcdcd','stroke-width':2,'stroke-linejoin':'round'},bg);
    
    
  });

  const vals=mapValues[i];
  const classes=isR2?r2Classes:rmseClasses;
  const colors=isR2?r2Colors:rmseColors;
  vals.forEach((v,k)=>{
    const c=mk('circle',{cx:lonX(siteLon[k]),cy:latY(siteLat[k]),r:9,fill:colors[classIndex(v,classes)],stroke:'#3c3c3c','stroke-width':2},g);
    
    
  });

  const frame=mk('rect',{x:f.L,y:f.T,width:f.R-f.L,height:f.B-f.T,fill:'none',stroke:'#333','stroke-width':3.5},g);
  
  

  lonTicks.forEach(t=>{
    const a=mk('line',{x1:lonX(t),y1:f.T-9,x2:lonX(t),y2:f.T,stroke:'#333','stroke-width':2.5},g);
    
    
    const b=mk('line',{x1:lonX(t),y1:f.B,x2:lonX(t),y2:f.B+9,stroke:'#333','stroke-width':2.5},g);
    
    
    const c=txt(t+'°E',{x:lonX(t),y:f.T-14,'text-anchor':'middle','font-family':SERIF,'font-size':24,fill:'#444'},g);
    
    
    const d=txt(t+'°E',{x:lonX(t),y:f.B+33,'text-anchor':'middle','font-family':SERIF,'font-size':24,fill:'#444'},g);
    
    
  });
  latTicks.forEach(t=>{
    const a=mk('line',{x1:f.L-9,y1:latY(t),x2:f.L,y2:latY(t),stroke:'#333','stroke-width':2.5},g);
    
    
    const b=mk('line',{x1:f.R,y1:latY(t),x2:f.R+9,y2:latY(t),stroke:'#333','stroke-width':2.5},g);
    
    
    const c=txt(t+'°N',{transform:'translate('+(f.L-16)+','+latY(t)+') rotate(-90)','text-anchor':'middle','font-family':SERIF,'font-size':24,fill:'#444'},g);
    
    
    const d=txt(t+'°N',{transform:'translate('+(f.R+30)+','+latY(t)+') rotate(-90)','text-anchor':'middle','font-family':SERIF,'font-size':24,fill:'#444'},g);
    
    
  });

  /* north arrow */
  const tipX=f.L+795, tipY=f.T+69;
  const nl=txt('N',{x:tipX,y:tipY-8,'text-anchor':'middle','font-family':ARIAL,'font-size':27,fill:'#222'},g);
  
  
  const ar=mk('polygon',{points:tipX+','+tipY+' '+(tipX+20)+','+(tipY+65)+' '+tipX+','+(tipY+39),fill:'#fff',stroke:'#222','stroke-width':2},g);
  
  
  const al=mk('polygon',{points:tipX+','+tipY+' '+(tipX-20)+','+(tipY+65)+' '+tipX+','+(tipY+39),fill:'#111',stroke:'#111','stroke-width':2},g);
  
  

  /* legend */
  const rowYs=isR2?[651.5,684.5,717,749.5,782.5]:[645.5,681,717,752.5,788];
  const col1=isR2?586:595.5, col2=isR2?744:751;
  const lab1=isR2?619:630.5, lab2=isR2?776:785.5;
  const labels=isR2?r2LegendLabels:rmseLegendLabels;
  if(isR2){
    const tt=txt(null,{x:f.L+705,y:f.T+619,'text-anchor':'middle','font-family':SERIF,'font-weight':'bold','font-size':28,fill:'#222'},g);
    
    
    span(tt,'R');
    span(tt,'2',{dy:-10,'font-size':18});
  }else{
    const tt=txt('RMSE(μg/m³)',{x:f.L+722,y:f.T+606,'text-anchor':'middle','font-family':SERIF,'font-weight':'bold','font-size':27,fill:'#222'},g);
    
    
  }
  labels.forEach((lb,k)=>{
    const second=k>=5;
    const ry=f.T+rowYs[k%5];
    const c=mk('circle',{cx:f.L+(second?col2:col1),cy:ry,r:11.5,fill:colors[k],stroke:'#444','stroke-width':2},g);
    
    
    const t=txt(lb,{x:f.L+(second?lab2:lab1),y:ry+9,'font-family':SERIF,'font-size':24,fill:'#666'},g);
    
    
  });

  /* scale bar */
  const pxPerKm=266.5/240;
  const barX=f.L+570, barY=f.T+839.5;
  for(let k=0;k<scaleBreaks.length-1;k++){
    const r=mk('rect',{x:barX+scaleBreaks[k]*pxPerKm,y:barY,width:(scaleBreaks[k+1]-scaleBreaks[k])*pxPerKm,height:10,fill:k%2===0?'#000':'#fff',stroke:'#222','stroke-width':1},g);
    
    
  }
  scaleLabels.forEach(v=>{
    const t=txt(String(v),{x:barX+v*pxPerKm,y:barY-8,'text-anchor':'middle','font-family':ARIAL,'font-size':18,fill:'#555'},g);
    
    
  });
  const km=txt('km',{x:barX+271,y:barY+10,'font-family':SERIF,'font-size':17,fill:'#555'},g);
  
  
}

/* ---------- render ---------- */
const sep1=mk('line',{x1:2403,y1:35,x2:2403,y2:1972,stroke:'#e9e6cc','stroke-width':3},root);


const sep2=mk('line',{x1:1390,y1:2950,x2:1390,y2:4904,stroke:'#f5f3de','stroke-width':3},root);


years.forEach((y,i)=>drawScatter(i));
mapFrames.forEach((f,i)=>drawMap(i));
</script>
</body>
</html>
